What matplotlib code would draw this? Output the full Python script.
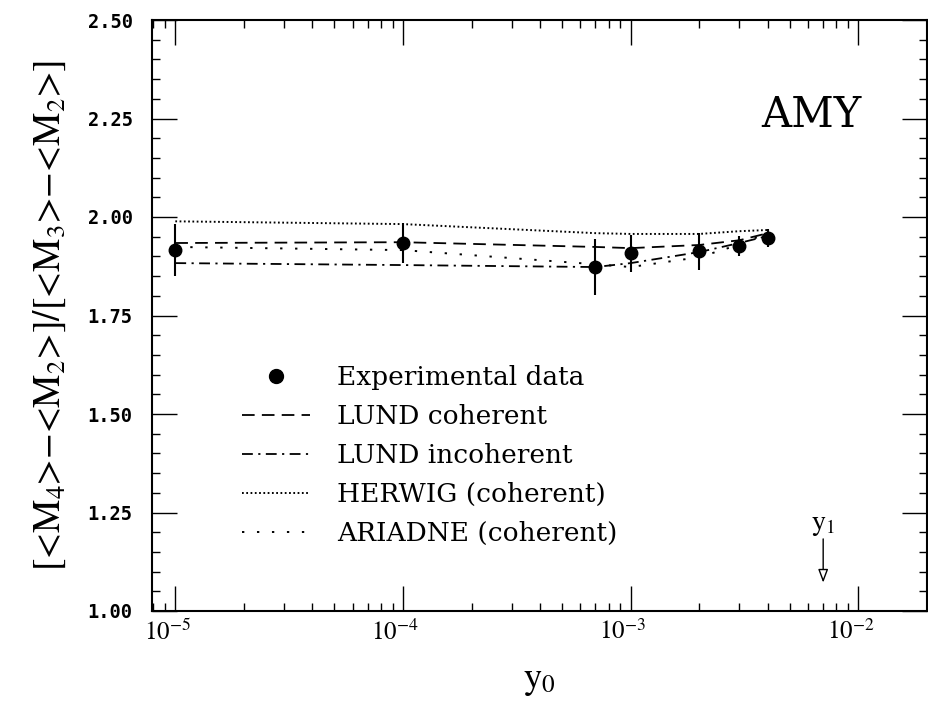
import matplotlib
matplotlib.use("Agg")
import matplotlib.pyplot as plt
import matplotlib.transforms as mtransforms
from matplotlib.ticker import LogLocator, MultipleLocator, FixedLocator, NullFormatter
from matplotlib.lines import Line2D

# ---- data ----
y0 = [1e-5, 1e-4, 7e-4, 1e-3, 2e-3, 3e-3, 4e-3]
exp_vals = [1.916, 1.934, 1.873, 1.908, 1.913, 1.926, 1.947]
exp_err = [0.065, 0.050, 0.070, 0.047, 0.047, 0.025, 0.023]
lund_coh = [1.934, 1.936, 1.924, 1.921, 1.929, 1.941, 1.959]
lund_incoh = [1.883, 1.878, 1.873, 1.883, 1.911, 1.934, 1.952]
herwig = [1.989, 1.982, 1.959, 1.957, 1.957, 1.964, 1.967]
ariadne = [1.924, 1.916, 1.880, 1.873, 1.898, 1.930, 1.960]
y1_pos = 7.0e-3
yticks = [1.00, 1.25, 1.50, 1.75, 2.00, 2.25, 2.50]
xticks = [1e-5, 1e-4, 1e-3, 1e-2]
xtick_labels = [r"$10^{-5}$", r"$10^{-4}$", r"$10^{-3}$", r"$10^{-2}$"]

plt.rcParams['mathtext.fontset'] = 'stix'

fig = plt.figure(figsize=(9.29, 7.08), dpi=100)
W, H = 929, 708
ax = fig.add_axes([152 / W, 1 - 611 / H, (927 - 152) / W, (611 - 20) / H])

ax.set_xscale('log')
ax.set_xlim(7.9e-6, 2.0e-2)
ax.set_ylim(1.0, 2.5)

lw = 1.3
l_coh, = ax.plot(y0, lund_coh, color='black', lw=lw, linestyle=(0, (7, 4)))
l_inc, = ax.plot(y0, lund_incoh, color='black', lw=lw, linestyle=(0, (6, 3, 1.2, 3)))
l_her, = ax.plot(y0, herwig, color='black', lw=1.4, linestyle=(0, (0.9, 1.3)))
l_ari, = ax.plot(y0, ariadne, color='black', lw=1.4, linestyle=(0, (1.2, 6.5)))
ax.errorbar(y0, exp_vals, yerr=exp_err, fmt='o', color='black', ms=9,
            elinewidth=1.5, capsize=0, zorder=5)

# y1 arrow
ax.annotate('', xy=(y1_pos, 1.065), xytext=(y1_pos, 1.19),
            arrowprops=dict(arrowstyle='-|>,head_length=0.8,head_width=0.3',
                            fc='white', ec='black', lw=1.0))
ax.text(y1_pos, 1.22, r'$\mathrm{y}_1$', ha='center', va='center', fontsize=20)

ax.text(1.03e-2, 2.26, 'AMY', ha='right', va='center', fontsize=30,
        family='DejaVu Serif')

# ticks
ax.xaxis.set_major_locator(FixedLocator(xticks))
ax.set_xticklabels(xtick_labels, fontsize=18)
ax.xaxis.set_minor_locator(LogLocator(base=10, subs=range(2, 10), numticks=20))
ax.xaxis.set_minor_formatter(NullFormatter())
ax.yaxis.set_major_locator(FixedLocator(yticks))
ax.set_yticklabels(['%.2f' % v for v in yticks], fontsize=13.5,
                   family='DejaVu Sans Mono', fontweight='bold')
ax.yaxis.set_minor_locator(MultipleLocator(0.05))
ax.tick_params(which='both', direction='in', top=True, right=True, width=1.0)
ax.tick_params(which='major', length=18)
ax.tick_params(which='minor', length=6)
ax.tick_params(axis='y', which='major', pad=14)
ax.tick_params(axis='x', which='major', pad=6)
for lab in ax.get_xticklabels():
    lab.set_transform(lab.get_transform() +
                      mtransforms.ScaledTranslation(-8 / 100, 0, fig.dpi_scale_trans))
for sp in ax.spines.values():
    sp.set_linewidth(1.5)

ax.set_ylabel('[<M$_4$>\u2212<M$_2$>]/[<M$_3$>\u2212<M$_2$>]',
              fontsize=27, family='STIXGeneral', labelpad=14)
ax.set_xlabel(r'$\mathrm{y}_0$', fontsize=26, labelpad=14)

h_exp = Line2D([], [], marker='o', color='black', ms=10, linestyle='none')
leg = ax.legend([h_exp, l_coh, l_inc, l_her, l_ari],
                ['Experimental data', 'LUND coherent', 'LUND incoherent',
                 'HERWIG (coherent)', 'ARIADNE (coherent)'],
                loc='upper left', bbox_to_anchor=(242, H - 365),
                bbox_transform=mtransforms.IdentityTransform(),
                frameon=False, borderpad=0, borderaxespad=0,
                handlelength=2.58, handletextpad=1.02, labelspacing=0.53,
                prop={'family': 'DejaVu Serif', 'size': 19})

fig.savefig('out.png', dpi=100)
